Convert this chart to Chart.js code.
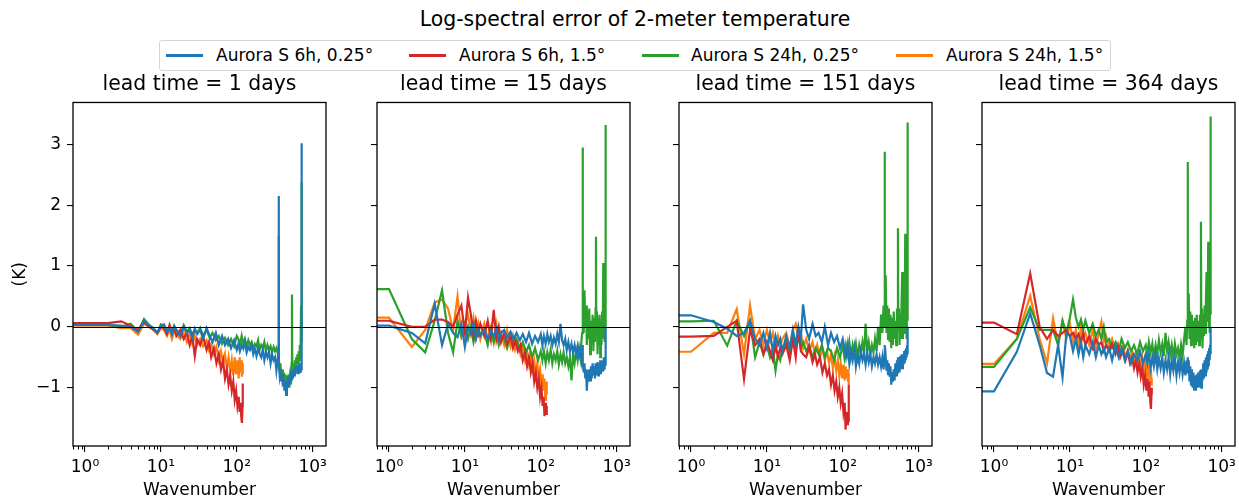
<!DOCTYPE html>
<html>
<head>
<meta charset="utf-8">
<title>Log-spectral error of 2-meter temperature</title>
<script src="https://cdn.jsdelivr.net/npm/chart.js@4.4.1/dist/chart.umd.min.js"></script>
<style>
  body { margin: 0; background: #fff; }
  #fig { position: relative; width: 1239px; height: 499px; overflow: hidden;
         font-family: "DejaVu Sans", sans-serif; color: #000; }
  #fig canvas { position: absolute; top: 72px; }
  .suptitle { position: absolute; top: 9px; left: 0; width: 1270px; text-align: center;
              font-size: 20.4px; line-height: 1; white-space: nowrap; }
  .legend { position: absolute; left: 159px; top: 40px; width: 950px; height: 29px;
            border: 1px solid #d5d5d5; border-radius: 3px; }
  .legend .swatch { position: absolute; top: 13px; width: 37px; height: 2.5px; }
  .legend .lab { position: absolute; top: 6px; font-size: 17px; line-height: 1; white-space: nowrap; }
</style>
</head>
<body>
<div id="fig">
  <div class="suptitle">Log-spectral error of 2-meter temperature</div>
  <div class="legend" id="legend"></div>
</div>
<script>
// wavenumbers sampled for the 0.25 deg and 1.5 deg runs
const wnHi = [0,1,2,3,4,5,6,7,8,9,10,11,12,13,14,15,16,
  18,20,22,24,26,28,30,
  33,36,40,44,48,53,58,64,70,77,84,92,100,
  105,110,116,122,128,135,142,149,157,165,
  173,182,191,200,210,220,231,242,254,266,
  279,292,306,320,333,345,352,356,360,368,
  377,386,395,405,415,425,436,447,458,470,
  482,494,506,518,528,534,540,550,560,572,
  584,596,608,620,632,644,656,666,676,686,
  696,704,710,715,719,722];
const wnLo = [0,1,2,3,4,5,6,7,8,9,10,11,12,13,14,15,16,
  18,20,22,24,26,28,30,
  33,36,40,43,46,50,54,58,62,66,
  70,74,78,82,86,90,94,98,102,106,
  109,112,115,117,119,120];

const leadDays = [1, 15, 151, 364];
const seriesNames = ['Aurora S 6h, 0.25°', 'Aurora S 6h, 1.5°', 'Aurora S 24h, 0.25°', 'Aurora S 24h, 1.5°'];
const seriesColors = ['#1f77b4', '#d62728', '#2ca02c', '#ff7f0e'];
const yTicks = [-1, 0, 1, 2, 3];
const xTicks = [1, 10, 100, 1000];
const xTickLabels = ['10⁰', '10¹', '10²', '10³'];

// lead time = 1 days
const err6h025_d1 = [0.03,0.03,0.03,0.02,0.0,-0.08,0.1,0.02,-0.03,-0.1,0.02,0.04,-0.08,-0.02,-0.12,0.0,-0.05,
  -0.15,0.0,-0.1,-0.05,-0.18,-0.03,-0.12,
  -0.05,-0.2,-0.02,-0.15,-0.25,-0.1,-0.3,-0.15,-0.3,-0.2,-0.35,-0.22,-0.38,
  -0.28,-0.4,-0.3,-0.36,-0.25,-0.42,-0.33,-0.38,-0.3,-0.45,
  -0.36,-0.48,-0.35,-0.44,-0.5,-0.38,-0.55,-0.42,-0.5,-0.4,
  -0.6,-0.45,-0.55,-0.5,-0.72,-0.55,-0.65,2.15,-0.6,-0.8,
  -0.7,-0.9,-0.78,-0.98,-0.85,-1.05,-0.9,-1.12,-0.88,-1.0,
  -0.82,-0.95,-0.8,-0.9,-0.75,-0.88,-0.72,-0.85,-0.7,-0.8,
  -0.68,-0.78,-0.65,-0.75,-0.62,-0.76,-0.64,-0.72,-0.6,-0.74,
  -0.62,-0.7,-0.58,-0.7,-0.5,3.02];
const err6h15_d1 = [0.06,0.06,0.06,0.09,0.02,-0.05,0.08,0.0,-0.05,-0.1,0.0,-0.02,-0.12,0.03,-0.08,-0.02,-0.15,
  -0.05,-0.2,-0.1,-0.3,-0.15,-0.48,-0.2,
  -0.3,-0.15,-0.38,-0.25,-0.5,-0.35,-0.6,-0.45,-0.7,-0.55,
  -0.85,-0.7,-0.95,-0.8,-1.05,-0.9,-1.2,-1.05,-1.3,-1.15,
  -1.4,-1.25,-1.5,-1.58,-1.3,-0.93];
const err24h025_d1 = [0.03,0.03,0.03,0.0,0.05,-0.08,0.13,0.03,-0.02,-0.1,0.04,0.02,-0.08,0.0,-0.1,0.02,-0.05,
  -0.12,0.03,-0.08,-0.02,-0.15,-0.05,-0.1,
  -0.02,-0.15,-0.05,-0.18,-0.1,-0.22,-0.15,-0.28,-0.18,-0.3,-0.2,-0.32,-0.15,
  -0.2,-0.3,-0.15,-0.28,-0.2,-0.33,-0.22,-0.3,-0.25,-0.36,
  -0.28,-0.32,-0.22,-0.38,-0.3,-0.35,-0.25,-0.4,-0.3,-0.38,
  -0.32,-0.42,-0.33,-0.4,-0.35,-0.42,-0.38,1.5,-0.5,-0.75,
  -0.6,-0.85,-0.7,-0.9,-0.75,-0.92,-0.78,-0.95,-0.8,-0.9,
  -0.78,-1.0,-0.85,-0.95,-0.6,0.53,-0.7,-0.85,-0.6,-0.75,
  -0.55,-0.68,-0.5,-0.62,-0.45,-0.6,-0.4,-0.55,-0.3,-0.5,
  -0.2,0.35,-0.25,0.3,0.0,2.38];
const err24h15_d1 = [0.02,0.02,0.02,-0.02,-0.02,-0.13,0.05,0.0,-0.05,-0.12,-0.02,-0.05,-0.15,-0.05,-0.2,-0.08,-0.12,
  -0.2,-0.08,-0.25,-0.1,-0.28,-0.15,-0.3,
  -0.2,-0.32,-0.22,-0.38,-0.28,-0.45,-0.33,-0.55,-0.4,-0.6,
  -0.45,-0.68,-0.5,-0.75,-0.55,-0.8,-0.5,-0.78,-0.55,-0.85,
  -0.5,-0.75,-0.55,-0.82,-0.6,-0.78];

// lead time = 15 days
const err6h025_d15 = [0.02,0.02,-0.1,-0.27,0.38,-0.3,0.05,-0.1,-0.17,0.05,-0.33,0.0,-0.12,0.05,-0.2,-0.05,-0.15,
  -0.05,-0.2,-0.08,-0.15,-0.02,-0.2,-0.1,
  -0.05,-0.18,-0.08,-0.2,-0.1,-0.22,-0.12,-0.25,-0.1,-0.28,-0.15,-0.25,-0.12,
  -0.3,-0.15,-0.28,-0.12,-0.25,-0.15,-0.3,-0.18,-0.28,-0.12,
  -0.25,0.05,-0.22,-0.3,-0.2,-0.38,-0.25,-0.4,-0.28,-0.42,
  -0.3,-0.45,-0.32,-0.48,-0.38,-0.55,-0.45,-0.3,-0.6,-0.75,
  -0.6,-0.85,-0.7,-1.05,-0.75,-0.9,-0.7,-0.88,-0.65,-0.85,
  -0.6,-0.8,-0.65,-0.85,-0.6,-0.8,-0.65,-0.78,-0.58,-0.8,
  -0.6,-0.75,-0.55,-0.78,-0.6,-0.72,-0.55,-0.7,-0.5,-0.68,
  -0.5,-0.62,-0.45,-0.55,-0.3,0.0];
const err6h15_d15 = [0.1,0.1,0.0,0.0,0.12,0.12,0.08,0.0,0.2,0.35,-0.1,0.48,0.2,-0.15,0.1,-0.1,0.05,
  -0.15,0.1,-0.2,0.28,-0.2,0.0,-0.25,
  -0.1,-0.28,-0.15,-0.35,-0.22,-0.4,-0.3,-0.55,-0.42,-0.65,
  -0.5,-0.75,-0.6,-0.9,-0.75,-1.0,-0.85,-1.15,-1.0,-1.3,
  -1.15,-1.47,-1.25,-1.45,-1.3,-1.45];
const err24h025_d15 = [0.62,0.62,-0.2,-0.42,0.1,0.6,-0.1,-0.42,0.1,-0.15,0.05,-0.2,0.0,-0.25,-0.05,-0.15,-0.1,
  -0.1,-0.3,-0.05,-0.25,-0.1,-0.3,-0.15,
  -0.2,-0.35,-0.15,-0.3,-0.2,-0.38,-0.25,-0.42,-0.3,-0.5,-0.35,-0.55,-0.4,
  -0.55,-0.4,-0.6,-0.42,-0.55,-0.38,-0.6,-0.45,-0.55,-0.4,
  -0.62,-0.45,-0.58,-0.42,-0.6,-0.5,-0.65,-0.5,-0.88,-0.45,
  -0.6,-0.4,-0.55,-0.35,-0.5,-0.2,-0.1,2.95,0.3,-0.1,
  0.6,0.0,0.35,-0.3,0.25,-0.2,0.3,-0.45,0.1,-0.3,
  0.2,-0.4,0.15,-0.25,0.3,1.48,-0.1,0.25,-0.45,0.15,
  -0.3,0.2,-0.5,0.1,-0.3,0.25,-0.2,1.05,-0.15,0.35,
  -0.25,0.4,0.0,0.5,0.2,3.32];
const err24h15_d15 = [0.15,0.15,-0.33,-0.05,0.4,0.45,0.3,-0.05,0.5,-0.15,0.05,0.2,-0.1,0.15,-0.15,0.05,-0.2,
  0.05,-0.2,0.0,-0.25,0.05,-0.2,-0.1,
  -0.3,-0.05,-0.32,-0.15,-0.38,-0.25,-0.45,-0.3,-0.55,-0.4,
  -0.62,-0.48,-0.7,-0.55,-0.78,-0.6,-0.85,-0.7,-0.95,-0.78,
  -1.05,-0.85,-1.2,-0.95,-1.1,-0.9];

// lead time = 151 days
const err6h025_d151 = [0.19,0.19,0.08,-0.03,-0.15,-0.1,0.1,-0.2,-0.3,-0.1,-0.35,-0.1,-0.4,-0.15,-0.3,-0.2,-0.4,
  -0.15,-0.35,-0.05,-0.3,0.0,-0.2,0.37,
  -0.05,-0.2,0.05,-0.15,-0.1,-0.25,0.0,-0.3,-0.1,-0.25,-0.15,-0.35,-0.2,
  -0.35,-0.5,-0.3,-0.6,-0.4,-0.55,-0.35,-0.65,-0.45,-0.6,
  -0.4,-0.55,-0.45,-0.62,-0.42,-0.58,-0.45,-0.65,-0.5,-0.6,
  -0.45,-0.62,-0.5,-0.65,-0.5,-0.7,-0.55,-0.3,-0.6,-0.5,
  -0.72,-0.55,-0.78,-0.6,-0.82,-0.65,-0.95,-0.75,-0.9,-0.7,
  -0.88,-0.6,-0.8,-0.55,-0.75,-0.5,-0.72,-0.5,-0.75,-0.48,
  -0.7,-0.45,-0.68,-0.45,-0.62,-0.4,-0.6,-0.38,-0.55,-0.35,
  -0.5,-0.3,-0.45,-0.2,-0.35,0.0];
const err6h15_d151 = [-0.16,-0.16,-0.15,0.0,0.1,-0.86,-0.05,-0.3,-0.2,-0.45,-0.25,-0.4,-0.55,-0.3,-0.5,-0.35,-0.45,
  -0.3,-0.55,-0.2,-0.5,0.0,-0.4,-0.45,
  -0.5,-0.32,-0.58,-0.45,-0.62,-0.5,-0.75,-0.6,-0.8,-0.7,
  -0.95,-0.8,-1.05,-0.9,-1.15,-1.0,-1.25,-1.1,-1.4,-1.25,
  -1.69,-1.4,-1.6,-1.45,-1.55,-0.95];
const err24h025_d151 = [0.09,0.09,0.1,-0.31,0.1,-0.15,0.1,-0.5,-0.25,-0.45,-0.3,-0.5,-0.35,-0.72,-0.45,-0.55,-0.35,
  -0.25,-0.45,-0.2,-0.4,-0.15,-0.35,-0.25,
  -0.4,-0.3,-0.5,-0.35,-0.45,-0.3,-0.5,-0.35,-0.4,-0.55,-0.35,-0.5,-0.3,
  -0.5,-0.3,-0.45,-0.25,-0.5,-0.3,-0.45,-0.28,-0.5,-0.3,
  -0.42,-0.25,-0.45,0.05,-0.4,-0.25,-0.45,-0.3,-0.42,-0.2,
  -0.4,0.0,-0.3,0.2,-0.1,0.35,0.0,2.88,0.3,0.85,
  -0.1,0.35,-0.2,0.3,-0.25,0.2,-0.35,0.15,-0.3,0.25,
  -0.2,0.1,-0.3,0.3,0.0,1.62,-0.05,0.3,-0.3,0.2,
  -0.2,0.4,0.9,-0.2,0.45,-0.1,0.3,1.53,0.0,0.4,
  -0.2,0.6,0.1,0.5,0.2,3.36];
const err24h15_d151 = [-0.41,-0.41,-0.1,-0.1,0.29,-0.45,0.35,-0.2,-0.05,-0.3,-0.05,-0.25,-0.1,-0.35,-0.15,-0.3,-0.2,
  -0.1,-0.35,-0.05,0.05,-0.2,-0.1,-0.35,
  -0.2,-0.4,-0.25,-0.45,-0.3,-0.5,-0.35,-0.55,-0.4,-0.6,
  -0.45,-0.68,-0.5,-0.72,-0.55,-0.8,-0.6,-0.85,-0.62,-0.88,
  -0.65,-0.85,-0.7,-0.9,-0.75,-0.95];

// lead time = 364 days
const err6h025_d364 = [-1.06,-1.06,-0.41,0.22,-0.3,-0.76,-0.82,-0.3,-0.83,-0.1,-0.15,-0.4,-0.2,-0.45,-0.25,-0.5,-0.3,
  -0.45,-0.25,-0.5,-0.3,-0.45,-0.35,-0.5,
  -0.35,-0.55,-0.3,-0.5,-0.35,-0.55,-0.4,-0.6,-0.45,-0.55,-0.4,-0.6,-0.45,
  -0.6,-0.45,-0.68,-0.5,-0.65,-0.45,-0.7,-0.52,-0.68,-0.5,
  -0.75,-0.55,-0.7,-0.5,-0.78,-0.55,-0.72,-0.52,-0.8,-0.58,
  -0.75,-0.55,-0.78,-0.6,-0.8,-0.55,-0.75,-0.5,-0.7,-0.55,
  -0.9,-0.65,-0.95,-0.7,-1.0,-0.75,-1.05,-0.8,-1.05,-0.78,
  -1.0,-0.75,-0.98,-0.72,-0.95,-0.7,-1.0,-0.7,-0.88,-0.6,
  -0.85,-0.55,-0.8,-0.5,-0.75,-0.45,-0.7,-0.4,-0.65,-0.35,
  -0.55,-0.3,-0.45,-0.2,-0.35,0.0];
const err6h15_d364 = [0.07,0.07,-0.12,0.88,0.0,-0.2,-0.05,-0.15,-0.1,-0.05,-0.15,-0.1,-0.2,-0.12,-0.25,-0.1,-0.3,
  -0.15,-0.35,-0.2,-0.3,-0.25,-0.4,-0.3,
  -0.4,-0.28,-0.45,-0.32,-0.5,-0.38,-0.55,-0.42,-0.6,-0.5,
  -0.68,-0.55,-0.75,-0.6,-0.82,-0.68,-0.95,-0.8,-1.05,-0.85,
  -1.15,-0.9,-1.25,-1.35,-1.1,-1.0];
const err24h025_d364 = [-0.66,-0.66,-0.2,0.32,-0.05,-0.05,-0.05,-0.3,0.1,-0.1,0.15,0.45,0.15,0.0,0.12,-0.05,0.1,
  -0.1,0.05,-0.15,-0.05,-0.2,0.0,-0.25,
  -0.2,-0.35,-0.25,-0.4,-0.2,-0.35,-0.25,-0.4,-0.3,-0.45,-0.25,-0.4,-0.3,
  -0.45,-0.25,-0.42,-0.28,-0.5,-0.3,-0.45,-0.22,-0.42,-0.28,
  -0.48,-0.1,-0.4,-0.25,-0.45,-0.3,-0.5,-0.28,-0.45,-0.35,
  -0.52,-0.3,-0.48,-0.2,0.0,-0.3,0.1,2.71,0.2,0.55,
  -0.2,0.25,-0.3,0.2,-0.25,0.1,-0.35,0.15,-0.3,0.2,
  -0.25,0.1,-0.3,0.2,-0.1,1.73,-0.2,0.3,-0.35,0.2,
  -0.15,0.35,-0.1,0.4,0.9,0.1,0.5,1.4,0.0,0.5,
  -0.1,0.7,0.3,0.6,0.2,3.46];
const err24h15_d364 = [-0.61,-0.61,-0.2,0.51,-0.2,-0.6,0.14,-0.3,0.1,-0.2,0.05,-0.25,-0.05,-0.35,0.0,-0.2,-0.1,
  -0.3,-0.05,-0.35,-0.1,0.08,-0.25,-0.15,
  -0.35,-0.2,-0.4,-0.28,-0.45,-0.32,-0.5,-0.38,-0.52,-0.42,
  -0.58,-0.45,-0.62,-0.5,-0.68,-0.52,-0.72,-0.55,-0.78,-0.6,
  -0.85,-0.65,-0.9,-0.7,-0.95,-0.85];

const panelSeries = [
  [err6h025_d1, err6h15_d1, err24h025_d1, err24h15_d1],
  [err6h025_d15, err6h15_d15, err24h025_d15, err24h15_d15],
  [err6h025_d151, err6h15_d151, err24h025_d151, err24h15_d151],
  [err6h025_d364, err6h15_d364, err24h025_d364, err24h15_d364],
];

// axes boxes in page pixels
const axLeft = [73, 377, 679, 982];
const axWidth = 253;
const yAxisW = 73;
const FONT = 'DejaVu Sans';

Chart.defaults.font.family = FONT;
Chart.defaults.color = '#000';

// wavenumber 0 can't sit on a log axis: push it far left like matplotlib's clip
function toPoints(wn, vals) {
  if (wn.length !== vals.length) throw new Error('length mismatch ' + wn.length + ' vs ' + vals.length);
  return wn.map((k, i) => ({ x: k === 0 ? 1e-3 : k, y: vals[i] }));
}

// frame, zero line and minor log ticks
const axesDecor = {
  id: 'axesDecor',
  afterDatasetsDraw(chart) {
    const { ctx, chartArea: a, scales: { x, y } } = chart;
    ctx.save();
    ctx.strokeStyle = '#000';
    const y0 = Math.round(y.getPixelForValue(0)) + 0.5;
    ctx.lineWidth = 1;
    ctx.beginPath(); ctx.moveTo(a.left, y0); ctx.lineTo(a.right, y0); ctx.stroke();
    ctx.lineWidth = 1.3;
    ctx.strokeRect(a.left, a.top, a.right - a.left, a.bottom - a.top);
    ctx.lineWidth = 1;
    for (let d = -1; d <= 3; d++) {
      for (let m = 2; m <= 9; m++) {
        const v = m * Math.pow(10, d);
        if (v < x.min || v > x.max) continue;
        const px = Math.round(x.getPixelForValue(v)) + 0.5;
        ctx.beginPath(); ctx.moveTo(px, a.bottom); ctx.lineTo(px, a.bottom + 3.5); ctx.stroke();
      }
    }
    ctx.restore();
  }
};

const fig = document.getElementById('fig');

leadDays.forEach((days, p) => {
  const canvas = document.createElement('canvas');
  canvas.width = yAxisW + axWidth + 12;
  canvas.height = 429;
  canvas.style.left = (axLeft[p] - yAxisW) + 'px';
  fig.appendChild(canvas);

  const datasets = panelSeries[p].map((vals, s) => ({
    label: seriesNames[s],
    data: toPoints(s % 2 === 0 ? wnHi : wnLo, vals),
    borderColor: seriesColors[s],
    backgroundColor: seriesColors[s],
    borderWidth: 2.2,
    pointRadius: 0,
    tension: 0,
    fill: false,
  }));

  new Chart(canvas, {
    type: 'line',
    data: { datasets },
    options: {
      responsive: false,
      animation: false,
      devicePixelRatio: 1,
      layout: { padding: { left: 0, right: 12, top: 0, bottom: 0 } },
      plugins: {
        legend: { display: false },
        tooltip: { enabled: false },
        title: {
          display: true,
          text: 'lead time = ' + days + ' days',
          fullSize: false,
          color: '#000',
          font: { size: 20.4, weight: 'normal' },
          padding: { top: 0, bottom: 6 },
        },
      },
      scales: {
        x: {
          type: 'logarithmic',
          min: 0.695,
          max: 1500,
          afterBuildTicks: (sc) => { sc.ticks = xTicks.map(v => ({ value: v, major: true })); },
          afterFit: (sc) => { sc.height = 55; },
          grid: { drawOnChartArea: false, drawTicks: true, tickLength: 6, color: '#000', lineWidth: 1.1 },
          border: { display: false },
          ticks: {
            autoSkip: false, maxRotation: 0, padding: 5, color: '#000',
            font: { size: 17 },
            callback: (v, i) => xTickLabels[i],
          },
          title: { display: true, text: 'Wavenumber', color: '#000', font: { size: 17 }, padding: { top: 0, bottom: 0 } },
        },
        y: {
          min: -1.96,
          max: 3.69,
          afterBuildTicks: (sc) => { sc.ticks = yTicks.map(v => ({ value: v })); },
          afterFit: (sc) => { sc.width = yAxisW; },
          grid: { drawOnChartArea: false, drawTicks: true, tickLength: 6, color: '#000', lineWidth: 1.1 },
          border: { display: false },
          ticks: {
            display: p === 0, padding: 6, color: '#000',
            font: { size: 17 },
            callback: (v) => (v < 0 ? '\u2212' + Math.abs(v) : String(v)),
          },
          title: { display: p === 0, text: '(K)', color: '#000', font: { size: 17 }, padding: { top: 10.5, bottom: 0 } },
        },
      },
    },
    plugins: [axesDecor],
  });
});

// figure legend
const legendSwatchX = [6, 249, 482, 736];
const legendLabelX = [56, 299, 531, 786];
const legend = document.getElementById('legend');
seriesNames.forEach((name, s) => {
  const sw = document.createElement('span');
  sw.className = 'swatch';
  sw.style.left = legendSwatchX[s] + 'px';
  sw.style.background = seriesColors[s];
  legend.appendChild(sw);
  const lab = document.createElement('span');
  lab.className = 'lab';
  lab.style.left = legendLabelX[s] + 'px';
  lab.textContent = name;
  legend.appendChild(lab);
});
</script>
</body>
</html>
